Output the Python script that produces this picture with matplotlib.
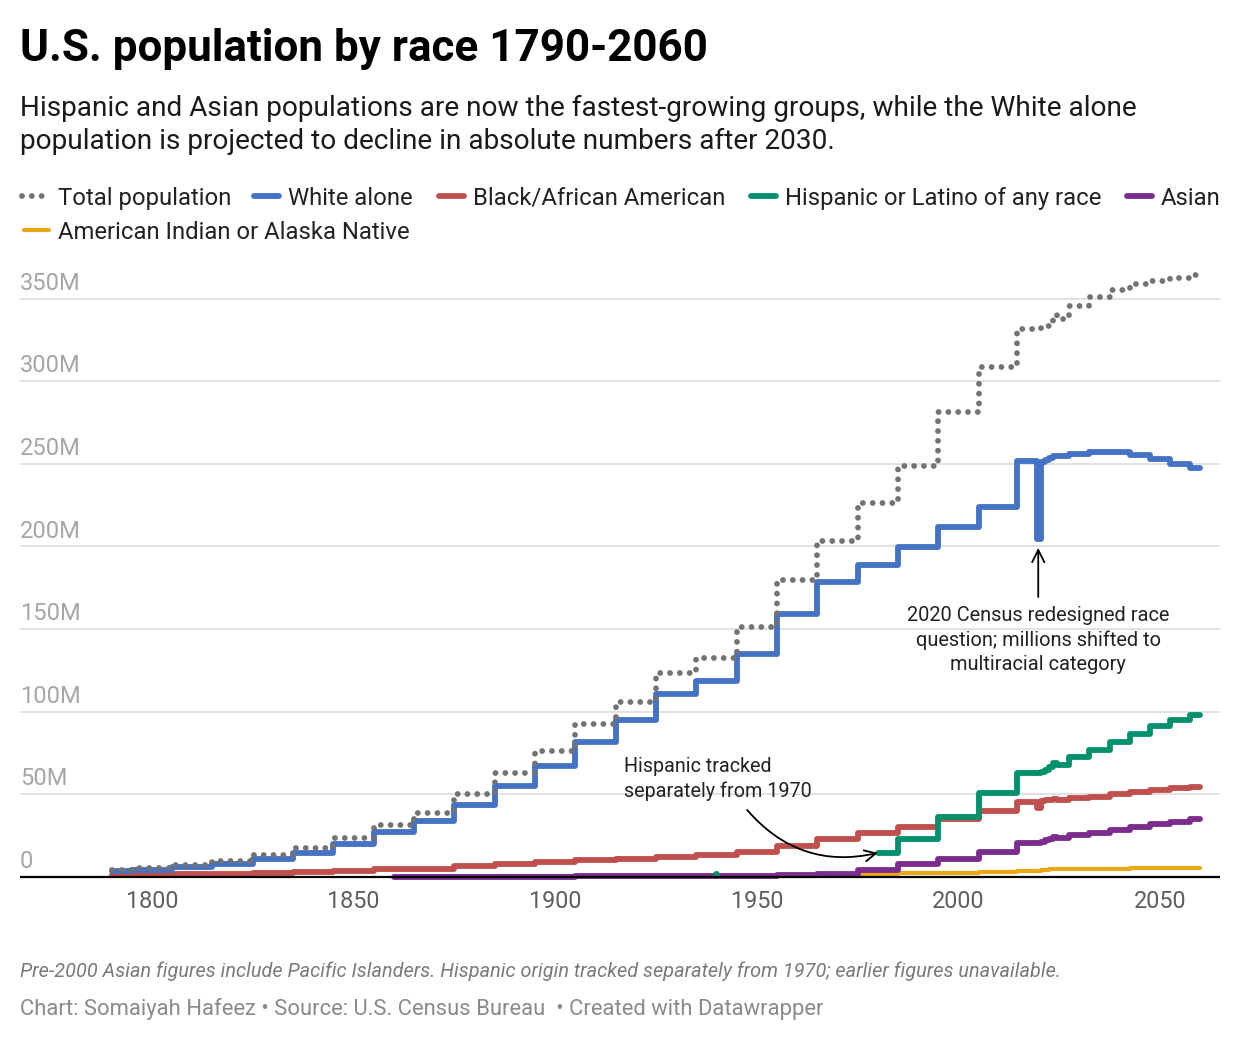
import matplotlib
matplotlib.use("Agg")
import matplotlib.pyplot as plt
from matplotlib.lines import Line2D

plt.rcParams['font.family'] = ['Roboto', 'DejaVu Sans']

# ---- data (millions) ----
hist_years = [1790, 1800, 1810, 1820, 1830, 1840, 1850, 1860, 1870, 1880, 1890,
              1900, 1910, 1920, 1930, 1940, 1950, 1960, 1970, 1980, 1990, 2000, 2010]
recent_years = [2019, 2020, 2021, 2022, 2023, 2024,
                2025, 2030, 2035, 2040, 2045, 2050, 2055, 2060]
years = hist_years + recent_years

total = [3.9, 5.3, 7.2, 9.6, 12.9, 17.1, 23.2, 31.4, 38.6, 50.2, 62.9,
         76.2, 92.2, 106.0, 123.2, 132.2, 151.3, 179.3, 203.2, 226.5, 248.7, 281.4, 308.7,
         331.6, 331.4, 332.0, 333.3, 334.9, 340.1,
         337.7, 345.2, 350.8, 355.3, 358.5, 360.5, 362.4, 364.4]
white = [3.2, 4.3, 5.9, 7.9, 10.5, 14.2, 19.6, 26.9, 33.6, 43.4, 55.1,
         66.8, 81.7, 94.8, 110.3, 118.2, 134.9, 158.8, 178.1, 188.4, 199.7, 211.5, 223.6,
         251.7, 204.3, 251.3, 252.5, 253.7, 254.7,
         254.7, 255.8, 256.8, 256.8, 255.2, 252.7, 250.1, 247.3]
black = [0.76, 1.0, 1.38, 1.77, 2.33, 2.87, 3.64, 4.44, 4.88, 6.58, 7.49,
         8.83, 9.83, 10.46, 11.89, 12.87, 15.04, 18.87, 22.6, 26.5, 30.0, 35.2, 39.5,
         45.5, 41.5, 46.0, 46.3, 46.6, 47.0,
         46.6, 47.6, 48.4, 49.8, 51.2, 52.3, 53.4, 54.4]

asian_years = [1860, 1870, 1880, 1890, 1900, 1910, 1920, 1930, 1940, 1950, 1960,
               1970, 1980, 1990, 2000, 2010] + recent_years
asian = [0.035, 0.063, 0.106, 0.11, 0.115, 0.146, 0.182, 0.265, 0.255, 0.321, 0.88,
         1.5, 3.8, 7.5, 10.8, 14.9,
         20.3, 20.4, 21.3, 22.0, 22.7, 23.8,
         23.6, 25.2, 26.6, 28.2, 29.8, 31.9, 33.3, 34.7]
aian = [0.044, 0.026, 0.066, 0.248, 0.237, 0.266, 0.244, 0.332, 0.334, 0.343, 0.524,
        0.79, 1.42, 1.96, 2.48, 2.93,
        3.5, 3.7, 4.3, 4.35, 4.4, 4.45,
        4.5, 4.65, 4.8, 4.95, 5.1, 5.2, 5.3, 5.4]

hisp_years = [1980, 1990, 2000, 2010] + recent_years
hispanic = [14.6, 22.6, 35.9, 50.8,
            62.6, 62.6, 63.6, 64.8, 66.2, 68.8,
            67.5, 72.4, 76.8, 81.6, 86.6, 91.0, 94.6, 97.8]
hisp_1940 = 1.9

ytick_vals = [0, 50, 100, 150, 200, 250, 300, 350]
ytick_labels = ["0", "50M", "100M", "150M", "200M", "250M", "300M", "350M"]
xtick_vals = [1800, 1850, 1900, 1950, 2000, 2050]

C_TOTAL = "#737373"
C_WHITE = "#4472c4"
C_BLACK = "#c0504d"
C_HISP = "#00906e"
C_ASIAN = "#7b2c8c"
C_AIAN = "#e9a816"

W, H = 1240, 1044


def fx(px):
    return px / W


def fy(py):
    return 1 - py / H


fig = plt.figure(figsize=(W / 100, H / 100), dpi=100)
fig.patch.set_facecolor("white")

# axes placement: zero line at y=876.7px, 1.652 px per million
zero_px, px_per_m = 876.7, 1.652
ymin, ymax = -3, 373
ax_top = zero_px - ymax * px_per_m
ax_bot = zero_px - ymin * px_per_m
ax = fig.add_axes([fx(20), fy(ax_bot), 1200 / W, (ax_bot - ax_top) / H])
ax.set_xlim(1767.26, 2064.88)
ax.set_ylim(ymin, ymax)
ax.axis("off")

for v in ytick_vals[1:]:
    ax.axhline(v, color="#e2e2e2", lw=1.4, zorder=0)
ax.axhline(0, color="black", lw=1.6, zorder=10)

for v, lbl in zip(ytick_vals, ytick_labels):
    ax.annotate(lbl, xy=(0, v), xycoords=("axes fraction", "data"),
                xytext=(0, 11), textcoords="offset points",
                ha="left", va="center", fontsize=17, color="#a6a6a6")
for v in xtick_vals:
    ax.annotate(str(v), xy=(v, 0), xycoords="data",
                xytext=(0, -18), textcoords="offset points",
                ha="center", va="center", fontsize=16.8, color="#5e5e5e")

lw = 4.2
ax.plot(asian_years, aian, drawstyle="steps-mid", color=C_AIAN, lw=3.0,
        solid_capstyle="round", zorder=3)
ax.plot(asian_years, asian, drawstyle="steps-mid", color=C_ASIAN, lw=lw,
        solid_capstyle="round", zorder=4)
ax.plot(years, black, drawstyle="steps-mid", color=C_BLACK, lw=lw,
        solid_capstyle="round", zorder=5)
ax.plot(hisp_years, hispanic, drawstyle="steps-mid", color=C_HISP, lw=lw,
        solid_capstyle="round", zorder=6)
ax.plot([1940], [hisp_1940], "o", color=C_HISP, ms=4, zorder=6)
ax.plot(years, white, drawstyle="steps-mid", color=C_WHITE, lw=lw,
        solid_capstyle="round", zorder=7)
ax.plot(years, total, drawstyle="steps-mid", color=C_TOTAL, lw=lw,
        linestyle=(0, (0.001, 1.68)), dash_capstyle="round", zorder=8)

# annotations
ax.annotate("", xy=(2019.8, 199), xytext=(2019.8, 169.3),
            arrowprops=dict(arrowstyle="->", color="black", lw=1.3,
                            mutation_scale=22, shrinkA=0, shrinkB=0), zorder=9)
fig.text(fx(1038), fy(606), "2020 Census redesigned race\nquestion; millions shifted to\nmultiracial category",
         ha="center", va="top", fontsize=14.4, color="#222222", linespacing=1.33)

ax.annotate("", xy=(1980, 14.4), xytext=(1947.6, 40.4),
            arrowprops=dict(arrowstyle="->", color="black", lw=1.3,
                            mutation_scale=20, shrinkA=0, shrinkB=0,
                            connectionstyle="arc3,rad=0.3"), zorder=9)
fig.text(fx(624), fy(757), "Hispanic tracked\nseparately from 1970",
         ha="left", va="top", fontsize=14.2, color="#222222", linespacing=1.33)

# title block
fig.text(fx(20), fy(61), "U.S. population by race 1790-2060", fontsize=31.7,
         fontweight="bold", color="black", ha="left", va="baseline")
fig.text(fx(20), fy(95), "Hispanic and Asian populations are now the fastest-growing groups, while the White alone\n"
         "population is projected to decline in absolute numbers after 2030.",
         fontsize=20.2, color="#1a1a1a", ha="left", va="top", linespacing=1.3)

# legend
legend_items = [
    (22, 196, "dots", C_TOTAL, "Total population"),
    (252, 196, "line", C_WHITE, "White alone"),
    (437, 196, "line", C_BLACK, "Black/African American"),
    (749, 196, "line", C_HISP, "Hispanic or Latino of any race"),
    (1125, 196, "line", C_ASIAN, "Asian"),
    (22, 230, "line", C_AIAN, "American Indian or Alaska Native"),
]
for x0, yc, kind, col, label in legend_items:
    if kind == "dots":
        fig.add_artist(Line2D([fx(x0), fx(x0 + 27)], [fy(yc), fy(yc)], color=col, lw=4.2,
                              linestyle=(0, (0.001, 1.68)), dash_capstyle="round"))
    else:
        lwid = 3.0 if col == C_AIAN else 4.2
        fig.add_artist(Line2D([fx(x0 + 2), fx(x0 + 27)], [fy(yc), fy(yc)], color=col, lw=lwid,
                              solid_capstyle="round"))
    fig.text(fx(x0 + 36), fy(yc), label, fontsize=17.2, color="#222222",
             ha="left", va="center_baseline")

# footer
fig.text(fx(20), fy(977), "Pre-2000 Asian figures include Pacific Islanders. Hispanic origin tracked "
         "separately from 1970; earlier figures unavailable.",
         fontsize=14.3, style="italic", color="#7a7a7a", ha="left", va="baseline")
fig.text(fx(20), fy(1015), "Chart: Somaiyah Hafeez \u2022 Source: U.S. Census Bureau  \u2022 Created with Datawrapper",
         fontsize=15.8, color="#8a8a8a", ha="left", va="baseline")

fig.savefig("out.png", dpi=100, facecolor="white")
